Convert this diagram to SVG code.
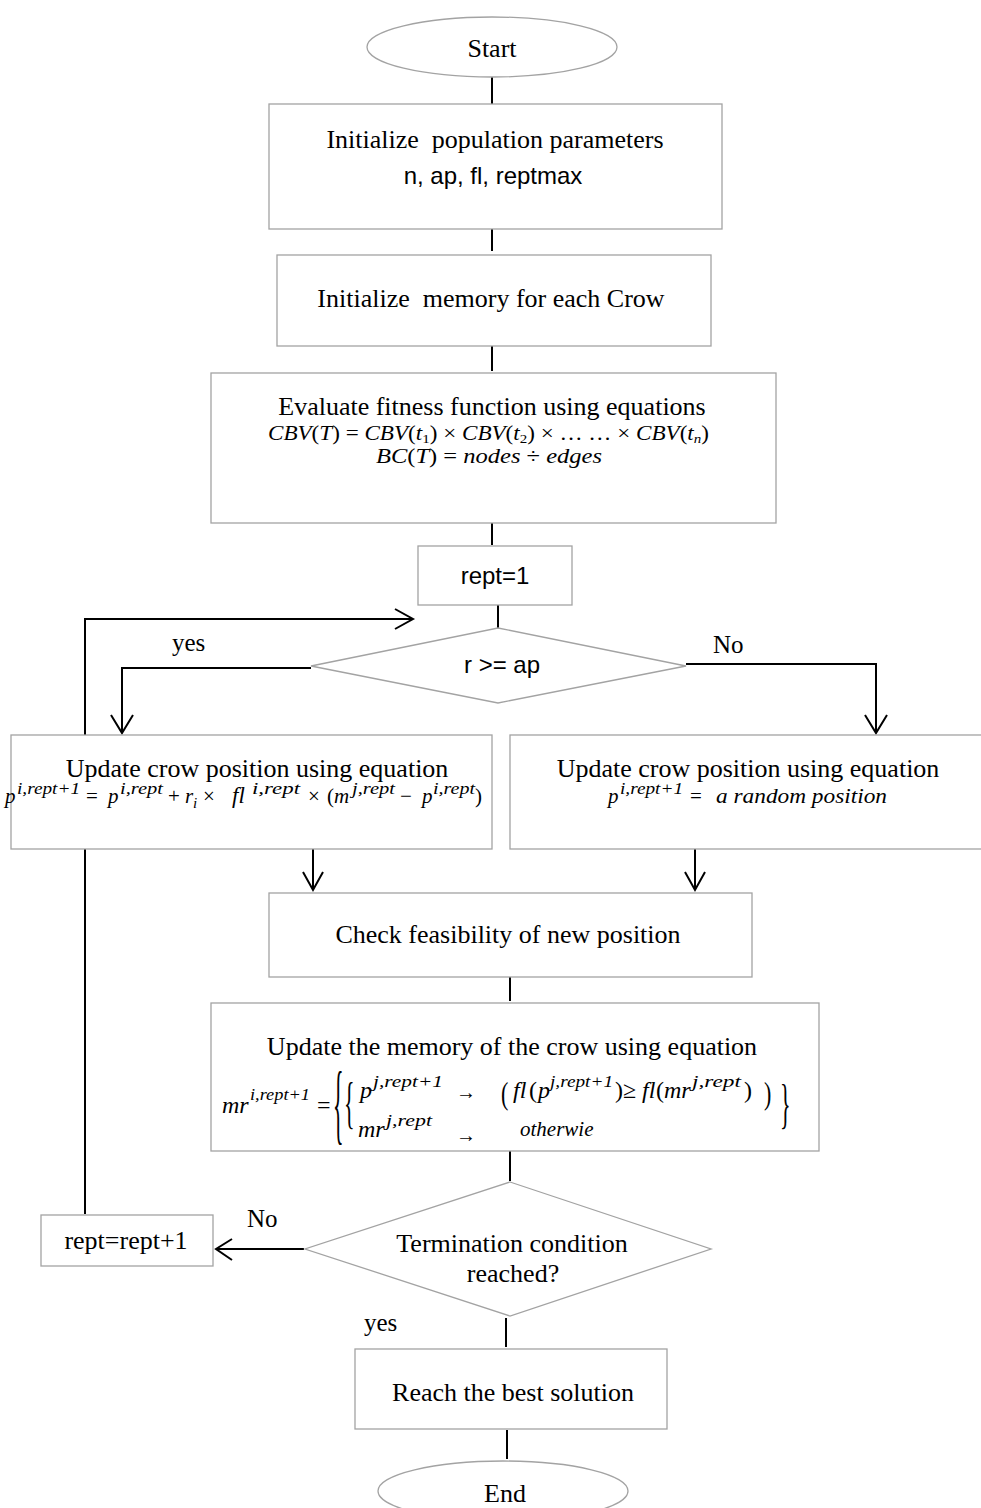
<svg xmlns="http://www.w3.org/2000/svg" width="981" height="1508" viewBox="0 0 981 1508">
<style>
.box{fill:#fff;stroke:#a3a3a3;stroke-width:1.3}
.ln{fill:none;stroke:#000;stroke-width:2}
.t{font-family:"Liberation Serif","Times New Roman",serif;font-size:26px;fill:#000;text-anchor:middle}
.lb{font-family:"Liberation Serif","Times New Roman",serif;font-size:25px;fill:#000}
.s{font-family:"Liberation Sans",Arial,sans-serif;font-size:24px;fill:#000;text-anchor:middle}
.m{font-family:"Liberation Serif","Times New Roman",serif;font-style:italic;fill:#000}
.u{font-style:normal}
</style>
<g id="connectors">
<line class="ln" x1="492" y1="77" x2="492" y2="104"/>
<line class="ln" x1="492" y1="229" x2="492" y2="251"/>
<line class="ln" x1="492" y1="346" x2="492" y2="371"/>
<line class="ln" x1="492" y1="523" x2="492" y2="545"/>
<line class="ln" x1="498" y1="605" x2="498" y2="628"/>
<polyline class="ln" points="311,668 122,668 122,733"/>
<polyline class="ln" points="111,715 122,733 133,715"/>
<polyline class="ln" points="686,664 876,664 876,733"/>
<polyline class="ln" points="865,715 876,733 887,715"/>
<polyline class="ln" points="85,1214 85,619 413,619"/>
<polyline class="ln" points="395,609 413,619 395,629"/>
<line class="ln" x1="313" y1="849" x2="313" y2="890"/>
<polyline class="ln" points="303,872 313,890 323,872"/>
<line class="ln" x1="695" y1="849" x2="695" y2="890"/>
<polyline class="ln" points="685,872 695,890 705,872"/>
<line class="ln" x1="510" y1="977" x2="510" y2="1001"/>
<line class="ln" x1="510" y1="1151" x2="510" y2="1181"/>
<polyline class="ln" points="304,1249 216,1249"/>
<polyline class="ln" points="232,1239 216,1249 232,1260"/>
<line class="ln" x1="506" y1="1318" x2="506" y2="1347"/>
<line class="ln" x1="507" y1="1430" x2="507" y2="1459"/>
<text class="lb" x="172" y="651">yes</text>
<text class="lb" x="713" y="653">No</text>
<text class="lb" x="247" y="1227">No</text>
<text class="lb" x="364" y="1331">yes</text>
</g>
<g id="start">
<ellipse class="box" cx="492" cy="47" rx="125" ry="30"/>
<text class="t" x="492" y="57">Start</text>
</g>
<g id="init-params">
<rect class="box" x="269" y="104" width="453" height="125"/>
<text class="t" x="495" y="148" xml:space="preserve">Initialize  population parameters</text>
<text class="s" x="493" y="184">n, ap, fl, reptmax</text>
</g>
<g id="init-memory">
<rect class="box" x="277" y="255" width="434" height="91"/>
<text class="t" x="491" y="307" xml:space="preserve">Initialize  memory for each Crow</text>
</g>
<g id="evaluate">
<rect class="box" x="211" y="373" width="565" height="150"/>
<text class="t" x="492" y="415">Evaluate fitness function using equations</text>
<text class="m" x="268" y="440" font-size="20" textLength="441" lengthAdjust="spacingAndGlyphs">CBV<tspan class="u">(</tspan>T<tspan class="u">) = </tspan>CBV<tspan class="u">(</tspan>t<tspan font-size="13" dy="3" class="u">1</tspan><tspan class="u" dy="-3">) × </tspan>CBV<tspan class="u">(</tspan>t<tspan font-size="13" dy="3" class="u">2</tspan><tspan class="u" dy="-3">) × … … × </tspan>CBV<tspan class="u">(</tspan>t<tspan font-size="13" dy="3">n</tspan><tspan class="u" dy="-3">)</tspan></text>
<text class="m" x="376" y="463" font-size="20" textLength="226" lengthAdjust="spacingAndGlyphs">BC<tspan class="u">(</tspan>T<tspan class="u">) = </tspan>nodes <tspan class="u">÷</tspan> edges</text>
</g>
<g id="rept-init">
<rect class="box" x="418" y="546" width="154" height="59"/>
<text class="s" x="495" y="584">rept=1</text>
</g>
<g id="decision-ap">
<polygon class="box" points="498,628 686,666 498,703 311,666"/>
<text class="s" x="502" y="673" font-size="22">r &gt;= ap</text>
</g>
<g id="update-follow">
<rect class="box" x="11" y="735" width="481" height="114"/>
<text class="t" x="257" y="777">Update crow position using equation</text>
<text class="m" font-size="21">
<tspan x="5" y="803">p</tspan>
<tspan x="17" y="794" font-size="16" textLength="63" lengthAdjust="spacingAndGlyphs">i,rept+1</tspan>
<tspan x="86" y="803" class="u">=</tspan>
<tspan x="108" y="803">p</tspan>
<tspan x="120" y="794" font-size="16" textLength="43" lengthAdjust="spacingAndGlyphs">i,rept</tspan>
<tspan x="168" y="803" class="u">+</tspan>
<tspan x="185" y="803">r</tspan>
<tspan x="193" y="808" font-size="15">i</tspan>
<tspan x="203" y="803" class="u">×</tspan>
<tspan x="232" y="803" font-size="23">fl</tspan>
<tspan x="252" y="794" font-size="16" textLength="48" lengthAdjust="spacingAndGlyphs">i,rept</tspan>
<tspan x="308" y="803" class="u">×</tspan>
<tspan x="327" y="803" class="u">(</tspan>
<tspan x="334" y="803">m</tspan>
<tspan x="352" y="794" font-size="16" textLength="43" lengthAdjust="spacingAndGlyphs">j,rept</tspan>
<tspan x="400" y="803" class="u">−</tspan>
<tspan x="422" y="803">p</tspan>
<tspan x="433" y="794" font-size="16" textLength="42" lengthAdjust="spacingAndGlyphs">i,rept</tspan>
<tspan x="475" y="803" class="u">)</tspan>
</text>
</g>
<g id="update-random">
<rect class="box" x="510" y="735" width="480" height="114"/>
<text class="t" x="748" y="777">Update crow position using equation</text>
<text class="m" font-size="21">
<tspan x="608" y="803">p</tspan>
<tspan x="620" y="794" font-size="16" textLength="63" lengthAdjust="spacingAndGlyphs">i,rept+1</tspan>
<tspan x="690" y="803" class="u">=</tspan>
<tspan x="716" y="803" textLength="171" lengthAdjust="spacingAndGlyphs">a random position</tspan>
</text>
</g>
<g id="check">
<rect class="box" x="269" y="893" width="483" height="84"/>
<text class="t" x="508" y="943">Check feasibility of new position</text>
</g>
<g id="update-memory">
<rect class="box" x="211" y="1003" width="608" height="148"/>
<text class="t" x="512" y="1055">Update the memory of the crow using equation</text>
<text class="m" font-size="24">
<tspan x="222" y="1113">mr</tspan>
<tspan x="250" y="1100" font-size="17" textLength="60" lengthAdjust="spacingAndGlyphs">i,rept+1</tspan>
<tspan x="317" y="1113" class="u">=</tspan>
<tspan x="360" y="1098">p</tspan>
<tspan x="373" y="1087" font-size="17" textLength="70" lengthAdjust="spacingAndGlyphs">j,rept+1</tspan>
<tspan x="513" y="1098">fl</tspan>
<tspan x="529" y="1098" class="u">(</tspan>
<tspan x="538" y="1098">p</tspan>
<tspan x="550" y="1087" font-size="17" textLength="63" lengthAdjust="spacingAndGlyphs">j,rept+1</tspan>
<tspan x="615" y="1098" class="u">)</tspan>
<tspan x="623" y="1098" class="u">≥</tspan>
<tspan x="642" y="1098">fl</tspan>
<tspan x="656" y="1098" class="u">(</tspan>
<tspan x="664" y="1098">mr</tspan>
<tspan x="692" y="1087" font-size="17" textLength="49" lengthAdjust="spacingAndGlyphs">j,rept</tspan>
<tspan x="744" y="1098" class="u">)</tspan>
<tspan x="358" y="1137">mr</tspan>
<tspan x="386" y="1126" font-size="17" textLength="46" lengthAdjust="spacingAndGlyphs">j,rept</tspan>
<tspan x="520" y="1136" font-size="21">otherwie</tspan>
</text>
<text class="m u" font-size="20" x="456" y="1099">→</text>
<text class="m u" font-size="20" x="456" y="1142">→</text>
<text class="m u" font-size="22" transform="translate(333,1133) scale(1,4.0)">{</text>
<text class="m u" font-size="22" transform="translate(344,1122) scale(1,2.64)">{</text>
<text class="m u" font-size="22" transform="translate(780,1122) scale(1,2.5)">}</text>
<text class="m u" font-size="22" transform="translate(501,1104) scale(1,1.45)">(</text>
<text class="m u" font-size="22" transform="translate(764,1104) scale(1,1.45)">)</text>
</g>
<g id="termination">
<polygon class="box" points="510,1182 711,1249 510,1316 305,1249"/>
<text class="t" x="512" y="1252">Termination condition</text>
<text class="t" x="513" y="1282">reached?</text>
</g>
<g id="rept-inc">
<rect class="box" x="41" y="1215" width="172" height="51"/>
<text class="t" x="126" y="1249">rept=rept+1</text>
</g>
<g id="best">
<rect class="box" x="355" y="1349" width="312" height="80"/>
<text class="t" x="513" y="1401">Reach the best solution</text>
</g>
<g id="end">
<ellipse class="box" cx="503" cy="1491" rx="125" ry="30"/>
<text class="t" x="505" y="1502">End</text>
</g>
</svg>
